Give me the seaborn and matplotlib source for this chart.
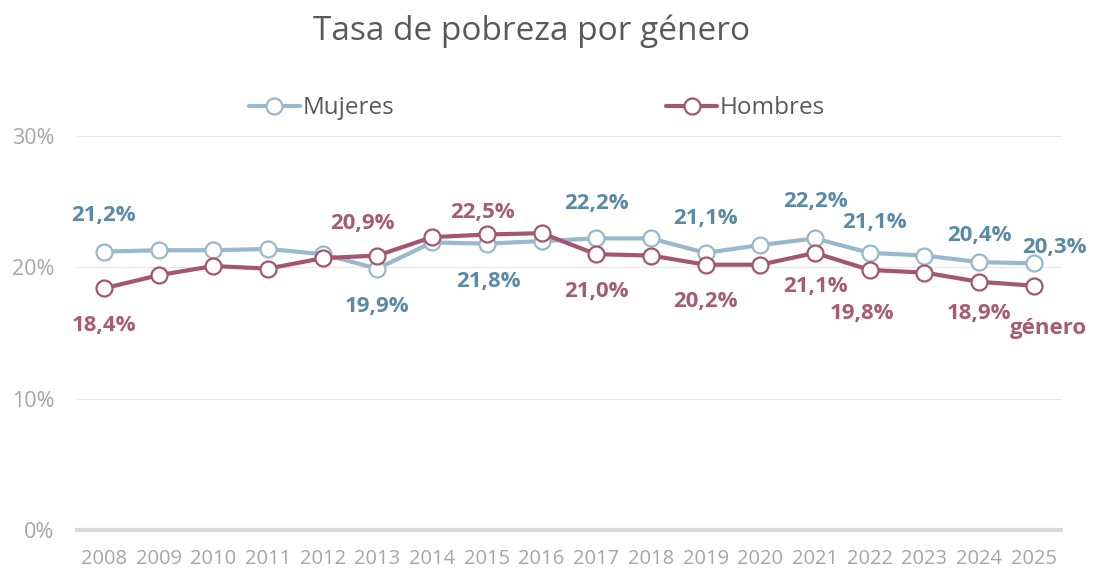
import numpy as np
import pandas as pd
import matplotlib.pyplot as plt
import seaborn as sns

# datos
years = list(range(2008, 2026))
mujeres = [21.2, 21.3, 21.3, 21.4, 21.0, 19.9, 21.9, 21.8, 22.0, 22.2, 22.2, 21.1, 21.7, 22.2, 21.1, 20.9, 20.4, 20.3]
hombres = [18.4, 19.4, 20.1, 19.9, 20.7, 20.9, 22.3, 22.5, 22.6, 21.0, 20.9, 20.2, 20.2, 21.1, 19.8, 19.6, 18.9, 18.6]
yticks = [0, 10, 20, 30]

# etiquetas visibles: año -> desplazamiento (px)
lab_muj = {2008: (0, 36), 2013: (0, -38), 2015: (2, -38), 2017: (0, 35), 2019: (0, 34),
           2021: (0, 37), 2022: (5, 30), 2024: (0, 27), 2025: (21, 16)}
lab_hom = {2008: (0, -37), 2013: (-15, 32), 2015: (-4, 22), 2017: (0, -37), 2019: (0, -37),
           2021: (0, -34), 2022: (-8, -44), 2024: (0, -32)}

c_muj, c_muj_txt = '#97B9CB', '#5A8BA6'
c_hom, c_hom_txt = '#A5566F', '#A85B74'
grey_txt = '#595959'

df = pd.DataFrame({'year': years, 'Mujeres': mujeres, 'Hombres': hombres})

sns.set_style('white')
plt.rcParams['font.family'] = ['Open Sans', 'DejaVu Sans']

fig = plt.figure(figsize=(10.94, 5.70), dpi=100)
ax = fig.add_axes([0.070, 0.0702, 0.900, 0.6912])

for col, c in [('Mujeres', c_muj), ('Hombres', c_hom)]:
    sns.lineplot(data=df, x='year', y=col, ax=ax, color=c, lw=3, marker='o', ms=11.5,
                 markerfacecolor='white', markeredgecolor=c, markeredgewidth=1.6, label=col)

for labs, vals, c in [(lab_muj, mujeres, c_muj_txt), (lab_hom, hombres, c_hom_txt)]:
    for yr, (dx, dy) in labs.items():
        v = vals[years.index(yr)]
        ax.annotate(f'{v:.1f}%'.replace('.', ','), (yr, v), xytext=(dx, dy),
                    textcoords='offset pixels', ha='center', va='center',
                    fontsize=16, fontweight='bold', color=c)

# texto suelto "género" junto al último punto
ax.annotate('género', (2025, hombres[-1]), xytext=(15, -43), textcoords='offset pixels',
            ha='center', va='center', fontsize=16, fontweight='bold', color=c_hom_txt)

ax.set_xlim(2007.5, 2025.5)
ax.set_ylim(0, 30)
ax.set_yticks(yticks)
ax.set_yticklabels([f'{t}%' for t in yticks])
ax.set_xticks(years)
ax.set_xticklabels([str(y) for y in years])
ax.tick_params(axis='both', length=0, colors='#A6A6A6')
ax.tick_params(axis='x', pad=14, labelsize=14.5)
ax.tick_params(axis='y', pad=16, labelsize=15.5)
ax.set_xlabel('')
ax.set_ylabel('')
ax.grid(axis='y', color='#E6E6E6', lw=0.8)
ax.set_axisbelow(True)
for s in ['top', 'right', 'left']:
    ax.spines[s].set_visible(False)
ax.spines['bottom'].set_color('#D9D9D9')
ax.spines['bottom'].set_linewidth(3)
ax.spines['bottom'].set_zorder(0)
for ln in ax.lines:
    ln.set_clip_on(False)

leg = ax.legend(loc='center', bbox_to_anchor=(0.4675, 1.071), ncol=2, frameon=False,
                fontsize=17.5, columnspacing=11.2, handlelength=2.1, handletextpad=0.1,
                borderaxespad=0)
for t in leg.get_texts():
    t.set_color(grey_txt)

fig.suptitle('Tasa de pobreza por género', x=0.486, y=0.975, fontsize=24, color=grey_txt)

fig.savefig('out.png', dpi=100, facecolor='white')
